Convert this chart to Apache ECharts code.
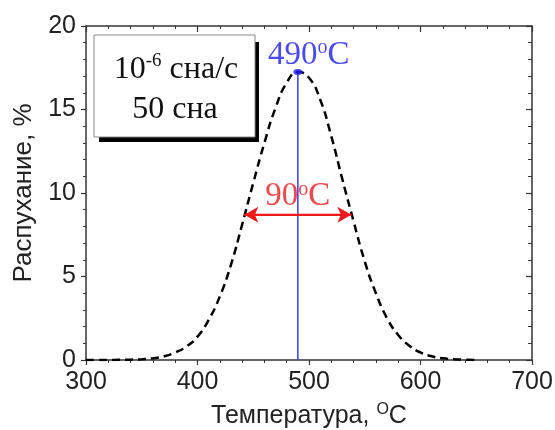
<!DOCTYPE html>
<html><head><meta charset="utf-8">
<script src="https://cdn.jsdelivr.net/npm/echarts@6/dist/echarts.min.js"></script>
<style>html,body{margin:0;padding:0;background:#fff}#c{width:555px;height:430px}</style>
</head><body><div id="c"></div>
<script>
// Temperature grid (°C) and swelling (%)
const temps = [300,310,320,330,340,350,360,370,380,390,400,410,420,430,440,450,460,470,480,490,500,510,520,530,540,550,560,570,580,590,600,610,620,630,640,650];
const swelling = [0,0,0,0.01,0.02,0.05,0.1,0.22,0.45,0.8,1.4,2.4,3.8,5.7,8.1,10.6,13.0,15.1,16.6,17.25,16.9,15.6,13.4,10.8,8.3,5.9,4.0,2.5,1.5,0.85,0.45,0.22,0.1,0.05,0.02,0];
const xTicks = [300,400,500,600,700];
const yTicks = [0,5,10,15,20];
const peakT = 490, peakSwell = 17.25;
const fwhmLeftT = 442, fwhmRightT = 538, halfSwell = 8.7;
const peakLabel = '490{sup|o}C';
const fwhmLabel = '90{sup|o}C';
const boxLine1 = '{m|10}{s|-6}{m| сна/с}';
const boxLine2 = '50 сна';
const xName = 'Температура, {sup|O}C';
const yName = 'Распухание, %';

const serif = 'Liberation Serif';
const sans = 'Liberation Sans';
const axisCol = '#333';

const chart = echarts.init(document.getElementById('c'), null, {renderer:'canvas'});
const baseX = {type:'value', min:xTicks[0], max:xTicks[xTicks.length-1], interval:100, splitLine:{show:false},
  axisLine:{show:true, onZero:false, lineStyle:{color:axisCol, width:1.5}}};
const baseY = {type:'value', min:yTicks[0], max:yTicks[yTicks.length-1], interval:5, splitLine:{show:false},
  axisLine:{show:true, onZero:false, lineStyle:{color:axisCol, width:1.5}}};

chart.setOption({
  animation:false,
  grid:{left:86, right:23, top:26, bottom:70, containLabel:false, outerBoundsMode:'none'},
  xAxis:[
    Object.assign({}, baseX, {position:'bottom',
      axisTick:{show:true, inside:false, length:5, lineStyle:{color:axisCol, width:1.2}},
      minorTick:{show:true, splitNumber:5, length:3, lineStyle:{color:axisCol, width:1}},
      axisLabel:{fontFamily:sans, fontSize:25, color:'#222', margin:10},
      name:xName, nameLocation:'middle', nameGap:42,
      nameTextStyle:{fontFamily:sans, fontSize:25, color:'#222',
        rich:{sup:{fontFamily:sans, fontSize:16, color:'#222', verticalAlign:'top', lineHeight:28}}}}),
    Object.assign({}, baseX, {position:'top',
      axisTick:{show:true, inside:true, length:6, lineStyle:{color:axisCol, width:1.2}},
      minorTick:{show:true, splitNumber:5, length:3, lineStyle:{color:axisCol, width:1}},
      axisLabel:{show:false}})
  ],
  yAxis:[
    Object.assign({}, baseY, {position:'left',
      axisTick:{show:true, inside:false, length:5, lineStyle:{color:axisCol, width:1.2}},
      minorTick:{show:true, splitNumber:5, length:3, lineStyle:{color:axisCol, width:1}},
      axisLabel:{fontFamily:sans, fontSize:25, color:'#222', margin:10},
      name:yName, nameLocation:'middle', nameGap:49, nameRotate:90,
      nameTextStyle:{fontFamily:sans, fontSize:26, color:'#222'}}),
    Object.assign({}, baseY, {position:'right',
      axisTick:{show:true, inside:true, length:6, lineStyle:{color:axisCol, width:1.2}},
      minorTick:{show:true, splitNumber:5, length:4, lineStyle:{color:axisCol, width:1}},
      axisLabel:{show:false}})
  ],
  series:[
    {type:'line', xAxisIndex:0, yAxisIndex:0, data:temps.map((t,i)=>[t, swelling[i]]),
      smooth:true, showSymbol:false, lineStyle:{color:'#000', width:2.5, type:[8,5]}, z:3},
    {type:'line', xAxisIndex:0, yAxisIndex:0, data:[[peakT,0],[peakT,peakSwell]],
      showSymbol:false, lineStyle:{color:'#3a3aff', width:1.5}, z:2},
    {type:'scatter', xAxisIndex:0, yAxisIndex:0, data:[[peakT,peakSwell]],
      symbol:'circle', symbolSize:[9,6], itemStyle:{color:'#1a1aff'}, z:4,
      label:{show:true, position:'top', distance:0, offset:[11,3], formatter:peakLabel,
        fontFamily:serif, fontSize:33, color:'#1c1cf0', lineHeight:34,
        rich:{sup:{fontFamily:serif, fontSize:20, color:'#1c1cf0', verticalAlign:'top', lineHeight:34}}}},
    {type:'line', xAxisIndex:0, yAxisIndex:0, data:[[fwhmLeftT,halfSwell],[fwhmRightT,halfSwell]],
      showSymbol:false, lineStyle:{color:'#f01818', width:2}, z:3,
      markLine:{silent:true, symbol:['arrow','arrow'], symbolSize:[12,14],
        lineStyle:{color:'#f01818', width:2, type:'solid'}, label:{show:false},
        data:[[{coord:[fwhmLeftT,halfSwell]},{coord:[fwhmRightT,halfSwell]}]]}},
    {type:'scatter', xAxisIndex:0, yAxisIndex:0, data:[[(fwhmLeftT+fwhmRightT)/2,halfSwell]],
      symbolSize:0, z:5,
      label:{show:true, position:'top', distance:1, offset:[0,0], formatter:fwhmLabel,
        fontFamily:serif, fontSize:33, color:'#f01818', lineHeight:34,
        rich:{sup:{fontFamily:serif, fontSize:20, color:'#f01818', verticalAlign:'top', lineHeight:34}}}}
  ],
  graphic:[
    {type:'rect', shape:{x:99, y:42, width:160, height:100}, style:{fill:'#000'}, z:10},
    {type:'rect', shape:{x:94, y:35, width:161, height:102}, style:{fill:'#fff', stroke:'#888', lineWidth:1}, z:11},
    {type:'text', x:176, y:70, z:12, style:{text:boxLine1, align:'center', verticalAlign:'middle',
      font:'32px ' + serif, fill:'#111',
      rich:{m:{fontFamily:serif, fontSize:32, fill:'#111', lineHeight:36},
            s:{fontFamily:serif, fontSize:19, fill:'#111', verticalAlign:'top', lineHeight:36}}}},
    {type:'text', x:175, y:110, z:12, style:{text:boxLine2, align:'center', verticalAlign:'middle',
      font:'32px ' + serif, fill:'#111'}}
  ]
});
</script></body></html>
